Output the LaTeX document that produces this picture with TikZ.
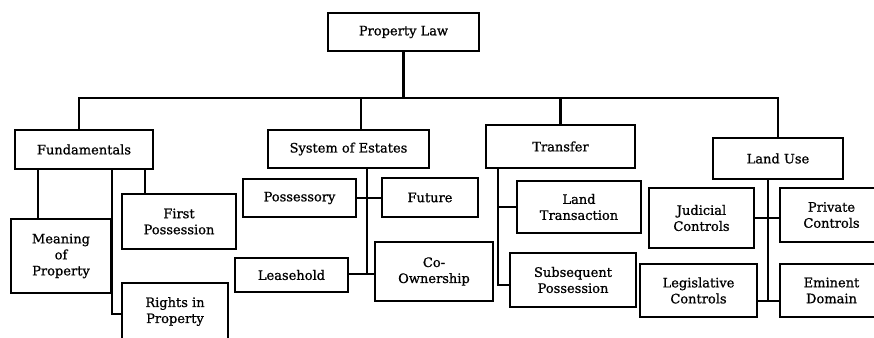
\documentclass[tikz,border=0pt]{standalone}
\usepackage{fontspec}
\setmainfont{DejaVu Serif}[BoldFont={DejaVu Serif}, BoldFeatures={FakeBold=0.9}]
\usetikzlibrary{calc}
\begin{document}
\begin{tikzpicture}[x=1pt,y=-1pt,
  box/.style={draw, line width=2.1pt, align=center, inner sep=2pt,
    font=\fontsize{13}{16}\selectfont\bfseries},
  conn/.style={line width=2.1pt}]
\useasboundingbox (0,0) rectangle (874,337);
\clip (0,0) rectangle (874,337);
% top level
\node[box, minimum width=151, minimum height=38] (law) at (403.5,32) {Property Law};
\node[box, minimum width=138, minimum height=39] (fund) at (84,149.5) {Fundamentals};
\node[box, minimum width=161, minimum height=38] (sys) at (348.5,149) {System of Estates};
\node[box, minimum width=149, minimum height=43] (trans) at (560.5,146.5) {Transfer};
\node[box, minimum width=130, minimum height=41] (land) at (778,158.5) {Land Use};
% fundamentals
\node[box, minimum width=100, minimum height=74] (meaning) at (61,256) {Meaning\\of\\Property};
\node[box, minimum width=114, minimum height=55] (first) at (179,221.5) {First\\Possession};
\node[box, minimum width=106, minimum height=57] (rights) at (175,311.5) {Rights in\\Property};
% estates
\node[box, minimum width=113, minimum height=38] (poss) at (299.5,198) {Possessory};
\node[box, minimum width=96, minimum height=39] (future) at (430,197.5) {Future};
\node[box, minimum width=113, minimum height=34] (lease) at (291.5,275) {Leasehold};
\node[box, minimum width=118, minimum height=59] (coown) at (434,271.5) {Co-\\Ownership};
% transfer
\node[box, minimum width=124, minimum height=52] (landtr) at (579,207) {Land\\Transaction};
\node[box, minimum width=126, minimum height=54] (subseq) at (573,280) {Subsequent\\Possession};
% land use
\node[box, minimum width=105, minimum height=60] (judicial) at (701.5,218) {Judicial\\Controls};
\node[box, minimum width=103, minimum height=54] (private) at (831.5,215) {Private\\Controls};
\node[box, minimum width=117, minimum height=53] (legis) at (698.5,290.5) {Legislative\\Controls};
\node[box, minimum width=103, minimum height=53] (eminent) at (831.5,290.5) {Eminent\\Domain};
% connectors: top
\coordinate (hub) at ($(law.south)+(0,46)$);
\draw[conn] (law.south) -- (hub);
\coordinate (fa) at ($(fund.north)+(-5,0)$);
\draw[conn] (fa) |- (hub) -| (land.north);
\coordinate (sa) at ($(sys.north)+(12.5,0)$);
\draw[conn] (sa) -- (sa |- hub);
\draw[conn] (trans.north) -- (trans.north |- hub);
% fundamentals
\coordinate (f1) at ($(fund.south)+(-46,0)$);
\coordinate (f2) at ($(fund.south)+(28,0)$);
\coordinate (f3) at ($(fund.south)+(61,0)$);
\coordinate (fb) at ($(f2)+(0,144)$);
\draw[conn] (f1) -- (f1 |- meaning.north);
\draw[conn] (f3) -- (f3 |- first.north);
\draw[conn] (f2) -- (fb) -- (fb -| rights.west);
% estates
\coordinate (s0) at ($(sys.south)+(18.5,0)$);
\coordinate (sb) at ($(s0)+(0,105)$);
\draw[conn] (s0) -- (sb);
\draw[conn] (poss.east) -- (poss.east -| future.west);
\draw[conn] (lease.east |- sb) -- (coown.west |- sb);
% transfer
\coordinate (t0) at ($(trans.south)+(-62.5,0)$);
\coordinate (tb) at ($(t0)+(0,116)$);
\draw[conn] (t0) -- (tb) -- (tb -| subseq.west);
\draw[conn] (t0 |- landtr.west) -- (landtr.west);
% land use
\coordinate (l0) at ($(land.south)+(-10,0)$);
\coordinate (lb) at ($(l0)+(0,121)$);
\draw[conn] (l0) -- (lb);
\draw[conn] (judicial.east) -- (judicial.east -| private.west);
\draw[conn] (legis.east |- lb) -- (eminent.west |- lb);
\end{tikzpicture}
\end{document}
